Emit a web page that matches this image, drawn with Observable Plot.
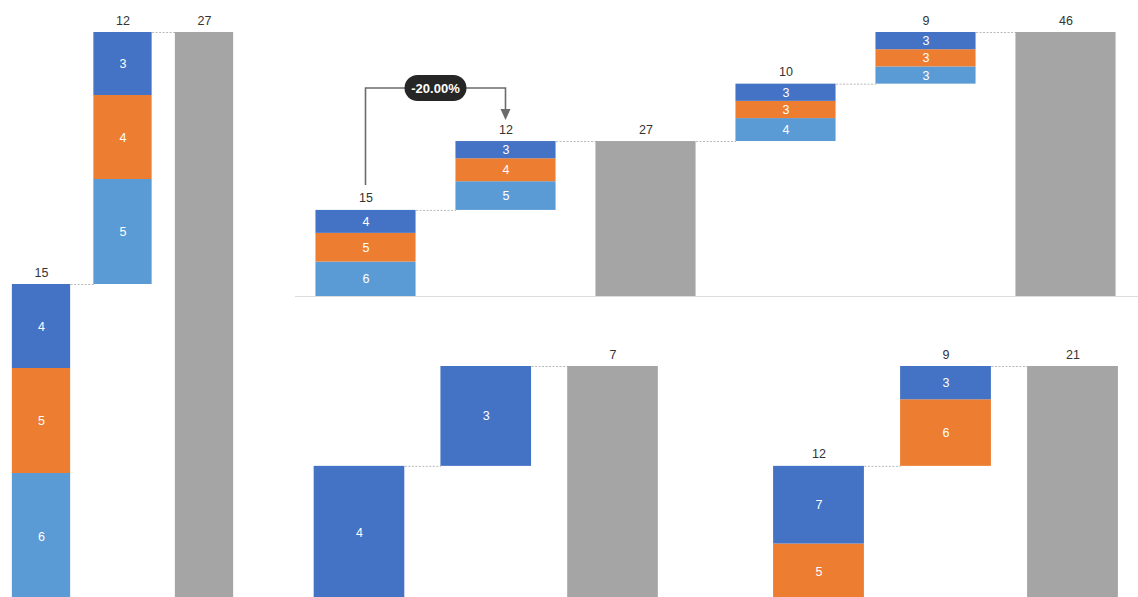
<!DOCTYPE html>
<html><head><meta charset="utf-8">
<script src="https://cdn.jsdelivr.net/npm/d3@7"></script>
<script src="https://cdn.jsdelivr.net/npm/@observablehq/plot@0.6"></script>
<style>
html,body{margin:0;padding:0;background:#fff;width:1138px;height:597px;overflow:hidden;}
#root{position:relative;width:1138px;height:597px;overflow:hidden;}
.panel{position:absolute;}
</style></head><body><div id="root"></div>
<script>
// Colours
const LIGHT = "#5B9BD5", ORANGE = "#ED7D31", DARK = "#4472C4", TOTAL = "#A5A5A5";

// Panel A (left): null = total bar
const aCats = ["A1", "A2", "A total"];
const aLight = [6, 5, null];
const aOrange = [5, 4, null];
const aDark = [4, 3, null];

// Panel B (top right)
const bCats = ["B1", "B2", "B subtotal", "B3", "B4", "B total"];
const bLight = [6, 5, null, 4, 3, null];
const bOrange = [5, 4, null, 3, 3, null];
const bDark = [4, 3, null, 3, 3, null];

// Panel C (bottom middle)
const cCats = ["C1", "C2", "C total"];
const cDark = [4, 3, null];

// Panel D (bottom right)
const dCats = ["D1", "D2", "D total"];
const dOrange = [5, 6, null];
const dDark = [7, 3, null];

const FONT = "'Liberation Sans', Arial, Helvetica, sans-serif";
const W = 0.715;

function build(cats, series) {
  const segs = [], tops = [], conns = [];
  let run = 0;
  cats.forEach((c, i) => {
    const parts = series.filter(s => s.values[i] != null);
    if (parts.length === 0) {
      segs.push({i, y1: 0, y2: run, color: TOTAL, v: null});
      tops.push({i, top: run, label: run, show: true});
    } else {
      let b = run;
      parts.forEach(s => {
        segs.push({i, y1: b, y2: b + s.values[i], color: s.color, v: s.values[i]});
        b += s.values[i];
      });
      tops.push({i, top: b, label: b - run, show: parts.length > 1});
      run = b;
    }
  });
  for (let i = 0; i < cats.length - 1; i++) conns.push({i, level: tops[i].top});
  return {segs, tops, conns};
}

function panel({cats, series, left, top, width, height, xRange, yRange, marginLeft = 0, baseline = false, extra = () => []}) {
  const {segs, tops, conns} = build(cats, series);
  const n = cats.length;
  const maxV = d3.max(tops, d => d.top);
  const marks = [];
  if (baseline) marks.push(Plot.ruleY([0], {stroke: "#dcdcdc", strokeWidth: 1}));
  marks.push(
    Plot.link(conns, {x1: d => d.i + W / 2, x2: d => d.i + 1 - W / 2, y1: "level", y2: "level",
      stroke: "#b8b8b8", strokeWidth: 1, strokeDasharray: "2,1.5"}),
    Plot.rect(segs, {x1: d => d.i - W / 2, x2: d => d.i + W / 2, y1: "y1", y2: "y2", fill: "color"}),
    Plot.text(segs.filter(d => d.v != null), {x: "i", y: d => (d.y1 + d.y2) / 2, text: d => String(d.v),
      fill: "white", fontSize: 12.5}),
    Plot.text(tops.filter(d => d.show), {x: "i", y: "top", dy: -12, text: d => String(d.label),
      fill: "#333", fontSize: 12.5}),
    ...extra(tops)
  );
  const chart = Plot.plot({
    width, height, marginLeft, marginRight: 0, marginTop: 0, marginBottom: 0,
    style: {fontFamily: FONT, background: "transparent", overflow: "visible"},
    x: {type: "linear", domain: [-0.5, n - 0.5], range: xRange, axis: null},
    y: {type: "linear", domain: [0, maxV], range: yRange, axis: null},
    color: {type: "identity"},
    marks
  });
  const div = document.createElement("div");
  div.className = "panel";
  div.style.left = left + "px";
  div.style.top = top + "px";
  div.appendChild(chart);
  document.getElementById("root").appendChild(div);
}

// Annotation: change between two bars of panel B
function bracket(tops, fromI, toI) {
  const fromV = tops[fromI].label, toV = tops[toI].label;
  const pct = ((toV - fromV) / fromV * 100).toFixed(2) + "%";
  return (index, scales) => {
    const x0 = scales.x(fromI), x1 = scales.x(toI);
    const yFrom = scales.y(tops[fromI].top) - 25;
    const yTo = scales.y(tops[toI].top) - 21;
    const yLev = Math.min(scales.y(tops[fromI].top), scales.y(tops[toI].top)) - 53;
    const g = d3.create("svg:g");
    g.append("path")
      .attr("d", `M${x0},${yFrom}V${yLev}H${x1}V${yTo - 10}`)
      .attr("fill", "none").attr("stroke", "#6b6b6b").attr("stroke-width", 1.6);
    g.append("path")
      .attr("d", `M${x1 - 5},${yTo - 11}L${x1 + 5},${yTo - 11}L${x1},${yTo}Z`)
      .attr("fill", "#6b6b6b");
    const cx = (x0 + x1) / 2;
    g.append("rect").attr("x", cx - 31).attr("y", yLev - 13).attr("width", 62).attr("height", 26)
      .attr("rx", 13).attr("fill", "#262626");
    g.append("text").attr("x", cx).attr("y", yLev).attr("dy", "0.36em")
      .attr("text-anchor", "middle").attr("fill", "white").attr("font-weight", "bold")
      .attr("font-size", 13).attr("font-family", FONT).text(pct);
    return g.node();
  };
}

panel({cats: aCats,
  series: [{color: LIGHT, values: aLight}, {color: ORANGE, values: aOrange}, {color: DARK, values: aDark}],
  left: 0, top: 0, width: 260, height: 597, xRange: [0.25, 244.75], yRange: [599, 32]});

panel({cats: bCats,
  series: [{color: LIGHT, values: bLight}, {color: ORANGE, values: bOrange}, {color: DARK, values: bDark}],
  left: 280, top: 0, width: 858, height: 310, marginLeft: 15, xRange: [15.5, 855.5], yRange: [296, 32],
  baseline: true, extra: tops => [bracket(tops, 0, 1)]});

panel({cats: cCats, series: [{color: DARK, values: cDark}],
  left: 280, top: 320, width: 400, height: 277, xRange: [15.6, 395.9], yRange: [279, 46]});

panel({cats: dCats, series: [{color: ORANGE, values: dOrange}, {color: DARK, values: dDark}],
  left: 740, top: 320, width: 398, height: 277, xRange: [15, 396], yRange: [279, 46]});
</script></body></html>
